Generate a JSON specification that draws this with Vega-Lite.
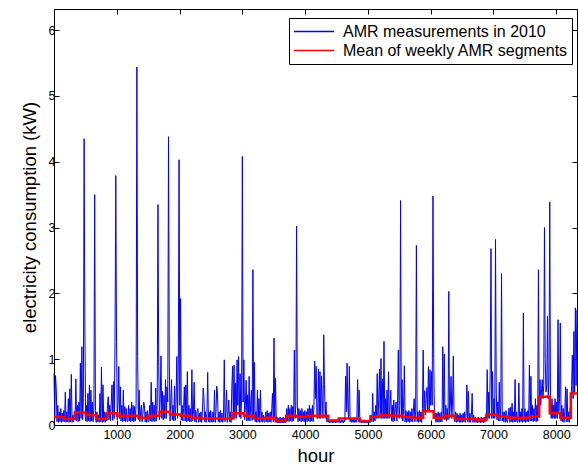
{
"$schema": "https://vega.github.io/schema/vega-lite/v6.json",
"width": 523, "height": 416,
"autosize": {"type": "none"},
"padding": {"left": 54, "top": 9, "right": 1, "bottom": 47},
"config": {
 "font": "Liberation Sans",
 "view": {"stroke": "black", "strokeWidth": 1},
 "axis": {"grid": false, "domainColor": "black", "tickColor": "black", "labelColor": "black", "titleColor": "black", "labelFontSize": 12.5, "titleFontSize": 18.5, "titleFontWeight": "normal", "tickSize": -5}
},
"datasets": {
"amr": [
{"h":0,"v":0.78},{"h":12,"v":0.1},{"h":24,"v":0.75},{"h":36,"v":0.55},{"h":48,"v":0.05},{"h":60,"v":0.3},{"h":72,"v":0.04},{"h":84,"v":0.2},{"h":96,"v":0.05},{"h":108,"v":0.25},{"h":120,"v":0.04},{"h":132,"v":0.18},{"h":144,"v":0.05},{"h":156,"v":0.22},
{"h":168,"v":0.05},{"h":180,"v":0.5},{"h":192,"v":0.04},{"h":204,"v":0.2},{"h":216,"v":0.05},{"h":228,"v":0.4},{"h":240,"v":0.04},{"h":252,"v":0.55},{"h":264,"v":0.05},{"h":276,"v":0.77},{"h":288,"v":0.04},{"h":300,"v":0.15},{"h":312,"v":0.05},{"h":324,"v":0.2},
{"h":336,"v":0.08},{"h":348,"v":0.7},{"h":360,"v":0.06},{"h":372,"v":0.3},{"h":384,"v":0.05},{"h":396,"v":0.35},{"h":408,"v":0.06},{"h":420,"v":0.94},{"h":432,"v":0.1},{"h":444,"v":1.19},{"h":456,"v":0.08},{"h":468,"v":0.4},{"h":480,"v":4.35},{"h":492,"v":1.46},
{"h":504,"v":0.06},{"h":516,"v":0.3},{"h":528,"v":0.05},{"h":540,"v":0.48},{"h":552,"v":0.06},{"h":564,"v":0.61},{"h":576,"v":0.05},{"h":588,"v":0.53},{"h":600,"v":0.06},{"h":612,"v":0.35},{"h":624,"v":0.05},{"h":636,"v":0.3},{"h":648,"v":3.5},{"h":660,"v":0.22},
{"h":672,"v":0.04},{"h":684,"v":0.2},{"h":696,"v":0.05},{"h":708,"v":0.15},{"h":720,"v":0.04},{"h":732,"v":0.48},{"h":744,"v":0.05},{"h":756,"v":0.88},{"h":768,"v":0.04},{"h":780,"v":0.61},{"h":792,"v":0.05},{"h":804,"v":0.2},{"h":816,"v":0.04},{"h":828,"v":0.18},
{"h":840,"v":0.06},{"h":852,"v":0.3},{"h":864,"v":0.43},{"h":876,"v":0.08},{"h":888,"v":0.3},{"h":900,"v":0.06},{"h":912,"v":0.35},{"h":924,"v":0.61},{"h":936,"v":0.07},{"h":948,"v":0.66},{"h":960,"v":0.1},{"h":972,"v":1.27},{"h":984,"v":3.79},{"h":996,"v":1.25},
{"h":1008,"v":0.08},{"h":1020,"v":0.35},{"h":1032,"v":0.89},{"h":1044,"v":0.1},{"h":1056,"v":0.58},{"h":1068,"v":0.06},{"h":1080,"v":0.3},{"h":1092,"v":0.05},{"h":1104,"v":0.53},{"h":1116,"v":0.06},{"h":1128,"v":0.28},{"h":1140,"v":0.05},{"h":1152,"v":0.25},{"h":1164,"v":0.06},
{"h":1176,"v":0.05},{"h":1188,"v":0.3},{"h":1200,"v":0.06},{"h":1212,"v":0.25},{"h":1224,"v":0.05},{"h":1236,"v":0.35},{"h":1248,"v":0.06},{"h":1260,"v":0.3},{"h":1272,"v":0.05},{"h":1284,"v":0.28},{"h":1296,"v":0.06},{"h":1308,"v":0.32},{"h":1320,"v":5.44},{"h":1332,"v":1.04},
{"h":1344,"v":0.08},{"h":1356,"v":0.53},{"h":1368,"v":0.05},{"h":1380,"v":0.2},{"h":1392,"v":0.3},{"h":1404,"v":0.05},{"h":1416,"v":0.18},{"h":1428,"v":0.35},{"h":1440,"v":0.3},{"h":1452,"v":0.05},{"h":1464,"v":0.2},{"h":1476,"v":0.04},{"h":1488,"v":0.22},{"h":1500,"v":0.05},
{"h":1512,"v":0.05},{"h":1524,"v":0.3},{"h":1536,"v":0.06},{"h":1548,"v":0.65},{"h":1560,"v":0.05},{"h":1572,"v":0.35},{"h":1584,"v":0.06},{"h":1596,"v":0.3},{"h":1608,"v":0.05},{"h":1620,"v":0.56},{"h":1632,"v":0.06},{"h":1644,"v":0.3},{"h":1656,"v":3.35},{"h":1668,"v":0.89},
{"h":1680,"v":0.08},{"h":1692,"v":0.4},{"h":1704,"v":1.05},{"h":1716,"v":0.1},{"h":1728,"v":0.51},{"h":1740,"v":0.08},{"h":1752,"v":0.45},{"h":1764,"v":0.1},{"h":1776,"v":0.69},{"h":1788,"v":0.1},{"h":1800,"v":0.58},{"h":1812,"v":0.35},{"h":1824,"v":4.38},{"h":1836,"v":1.0},
{"h":1848,"v":0.06},{"h":1860,"v":0.35},{"h":1872,"v":0.69},{"h":1884,"v":0.08},{"h":1896,"v":0.3},{"h":1908,"v":0.06},{"h":1920,"v":0.59},{"h":1932,"v":0.07},{"h":1944,"v":0.35},{"h":1956,"v":1.04},{"h":1968,"v":0.1},{"h":1980,"v":0.99},{"h":1992,"v":4.03},{"h":2004,"v":0.3},
{"h":2016,"v":1.92},{"h":2028,"v":0.08},{"h":2040,"v":0.3},{"h":2052,"v":0.06},{"h":2064,"v":0.25},{"h":2076,"v":0.58},{"h":2088,"v":0.06},{"h":2100,"v":0.61},{"h":2112,"v":0.05},{"h":2124,"v":0.81},{"h":2136,"v":0.06},{"h":2148,"v":0.3},{"h":2160,"v":0.05},{"h":2172,"v":0.25},
{"h":2184,"v":0.05},{"h":2196,"v":0.84},{"h":2208,"v":0.06},{"h":2220,"v":0.2},{"h":2232,"v":0.65},{"h":2244,"v":0.05},{"h":2256,"v":0.22},{"h":2268,"v":0.04},{"h":2280,"v":0.2},{"h":2292,"v":0.25},{"h":2304,"v":0.04},{"h":2316,"v":0.18},{"h":2328,"v":0.05},{"h":2340,"v":0.2},
{"h":2352,"v":0.04},{"h":2364,"v":0.2},{"h":2376,"v":0.56},{"h":2388,"v":0.43},{"h":2400,"v":0.05},{"h":2412,"v":0.2},{"h":2424,"v":0.04},{"h":2436,"v":0.18},{"h":2448,"v":0.8},{"h":2460,"v":0.05},{"h":2472,"v":0.2},{"h":2484,"v":0.04},{"h":2496,"v":0.22},{"h":2508,"v":0.05},
{"h":2520,"v":0.04},{"h":2532,"v":0.2},{"h":2544,"v":0.05},{"h":2556,"v":0.53},{"h":2568,"v":0.04},{"h":2580,"v":0.2},{"h":2592,"v":0.59},{"h":2604,"v":0.48},{"h":2616,"v":0.05},{"h":2628,"v":0.2},{"h":2640,"v":0.04},{"h":2652,"v":0.22},{"h":2664,"v":0.05},{"h":2676,"v":0.18},
{"h":2688,"v":0.04},{"h":2700,"v":0.15},{"h":2712,"v":0.99},{"h":2724,"v":0.05},{"h":2736,"v":0.2},{"h":2748,"v":0.53},{"h":2760,"v":0.04},{"h":2772,"v":0.18},{"h":2784,"v":0.38},{"h":2796,"v":0.05},{"h":2808,"v":0.2},{"h":2820,"v":0.04},{"h":2832,"v":0.56},{"h":2844,"v":0.89},
{"h":2856,"v":0.08},{"h":2868,"v":0.91},{"h":2880,"v":0.1},{"h":2892,"v":0.64},{"h":2904,"v":0.1},{"h":2916,"v":0.99},{"h":2928,"v":0.3},{"h":2940,"v":1.04},{"h":2952,"v":0.12},{"h":2964,"v":0.78},{"h":2976,"v":0.1},{"h":2988,"v":0.4},{"h":3000,"v":4.08},{"h":3012,"v":0.35},
{"h":3024,"v":0.99},{"h":3036,"v":0.08},{"h":3048,"v":0.3},{"h":3060,"v":0.68},{"h":3072,"v":0.06},{"h":3084,"v":0.46},{"h":3096,"v":0.07},{"h":3108,"v":0.74},{"h":3120,"v":0.06},{"h":3132,"v":0.3},{"h":3144,"v":0.53},{"h":3156,"v":0.07},{"h":3168,"v":2.36},{"h":3180,"v":0.1},
{"h":3192,"v":0.95},{"h":3204,"v":0.05},{"h":3216,"v":0.2},{"h":3228,"v":0.04},{"h":3240,"v":0.53},{"h":3252,"v":0.05},{"h":3264,"v":0.4},{"h":3276,"v":0.04},{"h":3288,"v":0.53},{"h":3300,"v":0.05},{"h":3312,"v":0.2},{"h":3324,"v":0.04},{"h":3336,"v":0.15},{"h":3348,"v":0.05},
{"h":3360,"v":0.04},{"h":3372,"v":0.2},{"h":3384,"v":0.05},{"h":3396,"v":0.22},{"h":3408,"v":0.04},{"h":3420,"v":0.18},{"h":3432,"v":0.05},{"h":3444,"v":0.2},{"h":3456,"v":0.04},{"h":3468,"v":0.25},{"h":3480,"v":0.48},{"h":3492,"v":0.05},{"h":3504,"v":1.32},{"h":3516,"v":0.1},
{"h":3528,"v":0.71},{"h":3540,"v":0.04},{"h":3552,"v":0.12},{"h":3564,"v":0.03},{"h":3576,"v":0.1},{"h":3588,"v":0.03},{"h":3600,"v":0.12},{"h":3612,"v":0.03},{"h":3624,"v":0.1},{"h":3636,"v":0.03},{"h":3648,"v":0.12},{"h":3660,"v":0.03},{"h":3672,"v":0.1},{"h":3684,"v":0.03},
{"h":3696,"v":0.05},{"h":3708,"v":0.25},{"h":3720,"v":0.06},{"h":3732,"v":0.3},{"h":3744,"v":0.05},{"h":3756,"v":0.25},{"h":3768,"v":0.06},{"h":3780,"v":0.3},{"h":3792,"v":0.05},{"h":3804,"v":0.28},{"h":3816,"v":0.06},{"h":3828,"v":1.14},{"h":3840,"v":0.1},{"h":3852,"v":0.3},
{"h":3864,"v":3.02},{"h":3876,"v":0.3},{"h":3888,"v":0.05},{"h":3900,"v":0.25},{"h":3912,"v":0.06},{"h":3924,"v":0.22},{"h":3936,"v":0.05},{"h":3948,"v":0.25},{"h":3960,"v":0.06},{"h":3972,"v":0.2},{"h":3984,"v":0.05},{"h":3996,"v":0.22},{"h":4008,"v":0.06},{"h":4020,"v":0.2},
{"h":4032,"v":0.05},{"h":4044,"v":0.25},{"h":4056,"v":0.06},{"h":4068,"v":0.3},{"h":4080,"v":0.05},{"h":4092,"v":0.25},{"h":4104,"v":0.06},{"h":4116,"v":0.3},{"h":4128,"v":0.05},{"h":4140,"v":0.3},{"h":4152,"v":0.97},{"h":4164,"v":0.4},{"h":4176,"v":0.89},{"h":4188,"v":0.1},
{"h":4200,"v":0.1},{"h":4212,"v":0.85},{"h":4224,"v":0.1},{"h":4236,"v":0.81},{"h":4248,"v":0.1},{"h":4260,"v":0.74},{"h":4272,"v":0.4},{"h":4284,"v":0.1},{"h":4296,"v":1.37},{"h":4308,"v":0.62},{"h":4320,"v":0.1},{"h":4332,"v":0.35},{"h":4344,"v":0.05},{"h":4356,"v":0.08},
{"h":4368,"v":0.04},{"h":4380,"v":0.08},{"h":4392,"v":0.03},{"h":4404,"v":0.07},{"h":4416,"v":0.04},{"h":4428,"v":0.08},{"h":4440,"v":0.03},{"h":4452,"v":0.07},{"h":4464,"v":0.04},{"h":4476,"v":0.08},{"h":4488,"v":0.03},{"h":4500,"v":0.07},{"h":4512,"v":0.04},{"h":4524,"v":0.08},
{"h":4536,"v":0.04},{"h":4548,"v":0.07},{"h":4560,"v":0.03},{"h":4572,"v":0.08},{"h":4584,"v":0.04},{"h":4596,"v":0.07},{"h":4608,"v":0.03},{"h":4620,"v":0.08},{"h":4632,"v":0.05},{"h":4644,"v":0.74},{"h":4656,"v":0.2},{"h":4668,"v":0.94},{"h":4680,"v":0.3},{"h":4692,"v":0.1},
{"h":4704,"v":0.89},{"h":4716,"v":0.05},{"h":4728,"v":0.1},{"h":4740,"v":0.04},{"h":4752,"v":0.08},{"h":4764,"v":0.04},{"h":4776,"v":0.1},{"h":4788,"v":0.04},{"h":4800,"v":0.08},{"h":4812,"v":0.04},{"h":4824,"v":0.1},{"h":4836,"v":0.69},{"h":4848,"v":0.05},{"h":4860,"v":0.53},
{"h":4872,"v":0.04},{"h":4884,"v":0.07},{"h":4896,"v":0.03},{"h":4908,"v":0.06},{"h":4920,"v":0.03},{"h":4932,"v":0.07},{"h":4944,"v":0.03},{"h":4956,"v":0.06},{"h":4968,"v":0.03},{"h":4980,"v":0.07},{"h":4992,"v":0.03},{"h":5004,"v":0.06},{"h":5016,"v":0.03},{"h":5028,"v":0.07},
{"h":5040,"v":0.04},{"h":5052,"v":0.15},{"h":5064,"v":0.05},{"h":5076,"v":0.48},{"h":5088,"v":0.05},{"h":5100,"v":0.2},{"h":5112,"v":0.06},{"h":5124,"v":0.3},{"h":5136,"v":0.1},{"h":5148,"v":0.78},{"h":5160,"v":0.1},{"h":5172,"v":0.4},{"h":5184,"v":0.85},{"h":5196,"v":0.1},
{"h":5208,"v":1.01},{"h":5220,"v":0.1},{"h":5232,"v":0.7},{"h":5244,"v":0.1},{"h":5256,"v":1.27},{"h":5268,"v":0.1},{"h":5280,"v":0.4},{"h":5292,"v":0.1},{"h":5304,"v":0.53},{"h":5316,"v":0.1},{"h":5328,"v":0.81},{"h":5340,"v":0.1},{"h":5352,"v":0.3},{"h":5364,"v":0.53},
{"h":5376,"v":0.06},{"h":5388,"v":0.3},{"h":5400,"v":0.05},{"h":5412,"v":0.38},{"h":5424,"v":0.06},{"h":5436,"v":0.25},{"h":5448,"v":0.35},{"h":5460,"v":0.06},{"h":5472,"v":0.3},{"h":5484,"v":1.14},{"h":5496,"v":0.1},{"h":5508,"v":0.3},{"h":5520,"v":3.41},{"h":5532,"v":0.1},
{"h":5544,"v":0.69},{"h":5556,"v":0.06},{"h":5568,"v":0.25},{"h":5580,"v":0.9},{"h":5592,"v":0.05},{"h":5604,"v":0.22},{"h":5616,"v":0.04},{"h":5628,"v":0.2},{"h":5640,"v":0.05},{"h":5652,"v":0.22},{"h":5664,"v":0.04},{"h":5676,"v":0.2},{"h":5688,"v":0.05},{"h":5700,"v":0.25},
{"h":5712,"v":0.05},{"h":5724,"v":0.2},{"h":5736,"v":0.4},{"h":5748,"v":0.05},{"h":5760,"v":0.2},{"h":5772,"v":2.73},{"h":5784,"v":0.05},{"h":5796,"v":0.2},{"h":5808,"v":0.04},{"h":5820,"v":0.22},{"h":5832,"v":0.05},{"h":5844,"v":0.2},{"h":5856,"v":0.04},{"h":5868,"v":0.25},
{"h":5880,"v":1.14},{"h":5892,"v":0.2},{"h":5904,"v":0.52},{"h":5916,"v":0.15},{"h":5928,"v":0.4},{"h":5940,"v":0.57},{"h":5952,"v":0.2},{"h":5964,"v":0.89},{"h":5976,"v":0.2},{"h":5988,"v":0.84},{"h":6000,"v":0.3},{"h":6012,"v":0.81},{"h":6024,"v":0.3},{"h":6036,"v":3.48},
{"h":6048,"v":1.01},{"h":6060,"v":0.1},{"h":6072,"v":0.18},{"h":6084,"v":0.04},{"h":6096,"v":0.18},{"h":6108,"v":0.05},{"h":6120,"v":0.2},{"h":6132,"v":0.04},{"h":6144,"v":0.18},{"h":6156,"v":0.05},{"h":6168,"v":0.2},{"h":6180,"v":0.05},{"h":6192,"v":1.19},{"h":6204,"v":0.1},
{"h":6216,"v":1.08},{"h":6228,"v":0.08},{"h":6240,"v":0.3},{"h":6252,"v":0.06},{"h":6264,"v":0.25},{"h":6276,"v":0.08},{"h":6288,"v":2.03},{"h":6300,"v":0.1},{"h":6312,"v":0.3},{"h":6324,"v":0.74},{"h":6336,"v":0.1},{"h":6348,"v":0.35},{"h":6360,"v":1.05},{"h":6372,"v":0.1},
{"h":6384,"v":0.05},{"h":6396,"v":0.2},{"h":6408,"v":0.04},{"h":6420,"v":0.18},{"h":6432,"v":0.05},{"h":6444,"v":0.15},{"h":6456,"v":0.04},{"h":6468,"v":0.18},{"h":6480,"v":0.04},{"h":6492,"v":0.15},{"h":6504,"v":0.04},{"h":6516,"v":0.18},{"h":6528,"v":0.05},{"h":6540,"v":0.2},
{"h":6552,"v":0.04},{"h":6564,"v":0.15},{"h":6576,"v":0.61},{"h":6588,"v":0.05},{"h":6600,"v":0.51},{"h":6612,"v":0.04},{"h":6624,"v":0.18},{"h":6636,"v":0.04},{"h":6648,"v":0.15},{"h":6660,"v":0.48},{"h":6672,"v":0.04},{"h":6684,"v":0.15},{"h":6696,"v":0.04},{"h":6708,"v":0.12},
{"h":6720,"v":0.04},{"h":6732,"v":0.1},{"h":6744,"v":0.03},{"h":6756,"v":0.12},{"h":6768,"v":0.04},{"h":6780,"v":0.1},{"h":6792,"v":0.03},{"h":6804,"v":0.12},{"h":6816,"v":0.04},{"h":6828,"v":0.1},{"h":6840,"v":0.03},{"h":6852,"v":0.12},{"h":6864,"v":0.04},{"h":6876,"v":0.15},
{"h":6888,"v":0.08},{"h":6900,"v":0.84},{"h":6912,"v":0.1},{"h":6924,"v":0.5},{"h":6936,"v":0.1},{"h":6948,"v":0.84},{"h":6960,"v":2.68},{"h":6972,"v":0.1},{"h":6984,"v":0.81},{"h":6996,"v":0.1},{"h":7008,"v":0.4},{"h":7020,"v":0.1},{"h":7032,"v":2.82},{"h":7044,"v":0.5},
{"h":7056,"v":0.08},{"h":7068,"v":0.35},{"h":7080,"v":0.06},{"h":7092,"v":0.65},{"h":7104,"v":0.06},{"h":7116,"v":0.3},{"h":7128,"v":2.3},{"h":7140,"v":0.06},{"h":7152,"v":0.2},{"h":7164,"v":0.05},{"h":7176,"v":0.2},{"h":7188,"v":0.04},{"h":7200,"v":0.22},{"h":7212,"v":0.05},
{"h":7224,"v":0.04},{"h":7236,"v":0.15},{"h":7248,"v":0.26},{"h":7260,"v":0.04},{"h":7272,"v":0.27},{"h":7284,"v":0.05},{"h":7296,"v":0.33},{"h":7308,"v":0.04},{"h":7320,"v":0.2},{"h":7332,"v":0.05},{"h":7344,"v":0.69},{"h":7356,"v":0.05},{"h":7368,"v":0.2},{"h":7380,"v":0.04},
{"h":7392,"v":0.05},{"h":7404,"v":0.64},{"h":7416,"v":0.04},{"h":7428,"v":0.2},{"h":7440,"v":0.05},{"h":7452,"v":0.25},{"h":7464,"v":0.04},{"h":7476,"v":1.7},{"h":7488,"v":0.05},{"h":7500,"v":0.25},{"h":7512,"v":0.04},{"h":7524,"v":0.2},{"h":7536,"v":0.05},{"h":7548,"v":0.22},
{"h":7560,"v":0.05},{"h":7572,"v":0.91},{"h":7584,"v":0.06},{"h":7596,"v":0.74},{"h":7608,"v":0.06},{"h":7620,"v":0.3},{"h":7632,"v":0.05},{"h":7644,"v":0.25},{"h":7656,"v":0.06},{"h":7668,"v":0.4},{"h":7680,"v":0.05},{"h":7692,"v":0.3},{"h":7704,"v":0.06},{"h":7716,"v":2.36},
{"h":7728,"v":0.2},{"h":7740,"v":0.69},{"h":7752,"v":0.3},{"h":7764,"v":0.5},{"h":7776,"v":0.69},{"h":7788,"v":0.4},{"h":7800,"v":0.6},{"h":7812,"v":3.0},{"h":7824,"v":1.0},{"h":7836,"v":0.5},{"h":7848,"v":0.6},{"h":7860,"v":1.65},{"h":7872,"v":0.4},{"h":7884,"v":0.7},
{"h":7896,"v":3.39},{"h":7908,"v":0.3},{"h":7920,"v":0.1},{"h":7932,"v":0.4},{"h":7944,"v":0.1},{"h":7956,"v":0.3},{"h":7968,"v":0.1},{"h":7980,"v":0.4},{"h":7992,"v":0.1},{"h":8004,"v":0.35},{"h":8016,"v":0.1},{"h":8028,"v":1.6},{"h":8040,"v":0.2},{"h":8052,"v":0.4},
{"h":8064,"v":1.55},{"h":8076,"v":0.06},{"h":8088,"v":0.3},{"h":8100,"v":0.05},{"h":8112,"v":0.25},{"h":8124,"v":0.04},{"h":8136,"v":0.2},{"h":8148,"v":0.58},{"h":8160,"v":0.05},{"h":8172,"v":0.55},{"h":8184,"v":0.05},{"h":8196,"v":0.2},{"h":8208,"v":0.04},{"h":8220,"v":0.25},
{"h":8232,"v":0.3},{"h":8244,"v":0.6},{"h":8256,"v":1.06},{"h":8268,"v":0.4},{"h":8280,"v":1.42},{"h":8292,"v":0.5},{"h":8304,"v":1.78},{"h":8316,"v":0.6},{"h":8328,"v":1.75}
],
"mean": [
{"h":0,"v":0.12},{"h":168,"v":0.09},{"h":336,"v":0.19},{"h":504,"v":0.15},{"h":672,"v":0.09},{"h":840,"v":0.18},{"h":1008,"v":0.14},{"h":1176,"v":0.14},{"h":1344,"v":0.11},{"h":1512,"v":0.14},
{"h":1680,"v":0.2},{"h":1848,"v":0.16},{"h":2016,"v":0.14},{"h":2184,"v":0.11},{"h":2352,"v":0.1},{"h":2520,"v":0.1},{"h":2688,"v":0.1},{"h":2856,"v":0.18},{"h":3024,"v":0.14},{"h":3192,"v":0.1},
{"h":3360,"v":0.11},{"h":3528,"v":0.06},{"h":3696,"v":0.14},{"h":3864,"v":0.12},{"h":4032,"v":0.14},{"h":4200,"v":0.14},{"h":4368,"v":0.07},{"h":4536,"v":0.1},{"h":4704,"v":0.1},{"h":4872,"v":0.06},
{"h":5040,"v":0.13},{"h":5208,"v":0.15},{"h":5376,"v":0.14},{"h":5544,"v":0.12},{"h":5712,"v":0.11},{"h":5880,"v":0.21},{"h":6048,"v":0.11},{"h":6216,"v":0.14},{"h":6384,"v":0.09},{"h":6552,"v":0.09},
{"h":6720,"v":0.08},{"h":6888,"v":0.16},{"h":7056,"v":0.13},{"h":7224,"v":0.11},{"h":7392,"v":0.11},{"h":7560,"v":0.13},{"h":7728,"v":0.43},{"h":7896,"v":0.18},{"h":8064,"v":0.11},{"h":8232,"v":0.48},{"h":8330,"v":0.48}
]
},
"layer": [
 {
  "data": {"name": "amr"},
  "mark": {"type": "line", "interpolate": "linear"},
  "encoding": {
   "x": {"field": "h", "type": "quantitative", "scale": {"domain": [0, 8330], "nice": false, "zero": false},
         "axis": {"orient": "bottom", "values": [1000,2000,3000,4000,5000,6000,7000,8000], "format": "d", "title": "hour", "labelPadding": 8, "titlePadding": 6}},
   "y": {"field": "v", "type": "quantitative", "scale": {"domain": [0, 6.32], "nice": false},
         "axis": {"orient": "left", "values": [0,1,2,3,4,5,6], "title": "electricity consumption (kW)", "labelPadding": 4, "titlePadding": 9}},
   "color": {"datum": "AMR measurements in 2010", "type": "nominal",
             "scale": {"domain": ["AMR measurements in 2010", "Mean of weekly AMR segments"], "range": ["#0000ff", "#ff0000"]},
             "legend": {"orient": "none", "legendX": 235, "legendY": 9, "title": null, "symbolType": "stroke", "symbolSize": 1600, "clipHeight": 19, "labelFontSize": 16, "labelColor": "black", "strokeColor": "black", "fillColor": "white", "padding": 4, "rowPadding": 0, "labelOffset": 8, "labelLimit": 240}},
   "strokeWidth": {"datum": "AMR measurements in 2010", "type": "nominal",
             "scale": {"type": "ordinal", "domain": ["AMR measurements in 2010", "Mean of weekly AMR segments"], "range": [1, 3.5]}}
  }
 },
 {
  "data": {"name": "mean"},
  "mark": {"type": "line", "interpolate": "step-after"},
  "encoding": {
   "x": {"field": "h", "type": "quantitative",
         "axis": {"orient": "top", "values": [1000,2000,3000,4000,5000,6000,7000,8000], "labels": false, "title": null}},
   "y": {"field": "v", "type": "quantitative",
         "axis": {"orient": "right", "values": [0,1,2,3,4,5,6], "labels": false, "title": null}},
   "color": {"datum": "Mean of weekly AMR segments", "type": "nominal"},
   "strokeWidth": {"datum": "Mean of weekly AMR segments", "type": "nominal"}
  }
 }
],
"resolve": {"axis": {"x": "independent", "y": "independent"}}
}
